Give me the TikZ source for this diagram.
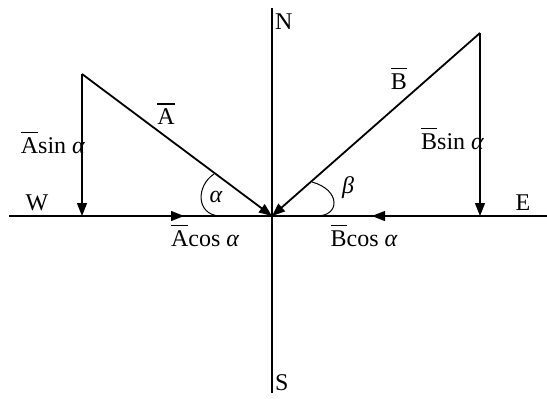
\documentclass[tikz,border=0pt]{standalone}
\usepackage{fontspec}
\setmainfont{Liberation Serif}
\usetikzlibrary{arrows.meta}
\newcommand{\ob}[1]{\setbox0\hbox{#1}\rlap{\raisebox{0.84em}{\rule{\wd0}{0.05em}}}\box0}
\newcommand{\al}{{\itshape α}}
\begin{document}
\begin{tikzpicture}[x=1pt,y=-1pt,
  axis/.style={line width=1.1pt},
  vec/.style={line width=1.8pt,-{Triangle[length=13pt,width=10pt]}},
  comp/.style={line width=1.1pt,-{Triangle[length=13pt,width=10pt]}},
  lbl/.style={font=\fontsize{24}{26}\selectfont, inner sep=0pt}]
\useasboundingbox (0,0) rectangle (547,399);
\coordinate (O) at (272,216);
\coordinate (N) at (272,8);
\coordinate (S) at (272,393);
\coordinate (Wend) at (9,216);
\coordinate (Eend) at (547,216);
\coordinate (At) at (82,74);
\coordinate (Bt) at (480,33);
\coordinate (Af) at (82,216);
\coordinate (Bf) at (480,216);
\coordinate (Am) at (184,216);
\coordinate (Bm) at (372,216);
\draw[axis] (N) -- (S);
\draw[axis] (Wend) -- (Eend);
\draw[vec] (At) -- (O);
\draw[vec] (Bt) -- (O);
\draw[comp] (At) -- (Af);
\draw[comp] (Bt) -- (Bf);
\draw[comp] (Af) -- (Am);
\draw[comp] (Bf) -- (Bm);
\draw[line width=1pt] (214,174) .. controls (196,186) and (196,214) .. (219,216);
\draw[line width=1pt] (312,182) .. controls (341,190) and (340,216) .. (317,216);
\node[lbl,anchor=west] (nN) at (275,22) {N};
\node[lbl,anchor=west] (nS) at (275,383) {S};
\node[lbl] (nW) at (37,203) {W};
\node[lbl] (nE) at (523,203) {E};
\node[lbl] (nA) at (166,114) {\ob{A}};
\node[lbl] (nB) at (399,79) {\ob{B}};
\node[lbl,anchor=east] (nAs) at (85,143) {\ob{A}sin \al};
\node[lbl,anchor=east] (nBs) at (484,139) {\ob{B}sin \al};
\node[lbl] (nAc) at (205,236) {\ob{A}cos \al};
\node[lbl] (nBc) at (364,236) {\ob{B}cos \al};
\node[lbl] (nal) at (216,197) {\al};
\node[lbl] (nbe) at (348,188) {{\itshape β}};
\end{tikzpicture}
\end{document}
